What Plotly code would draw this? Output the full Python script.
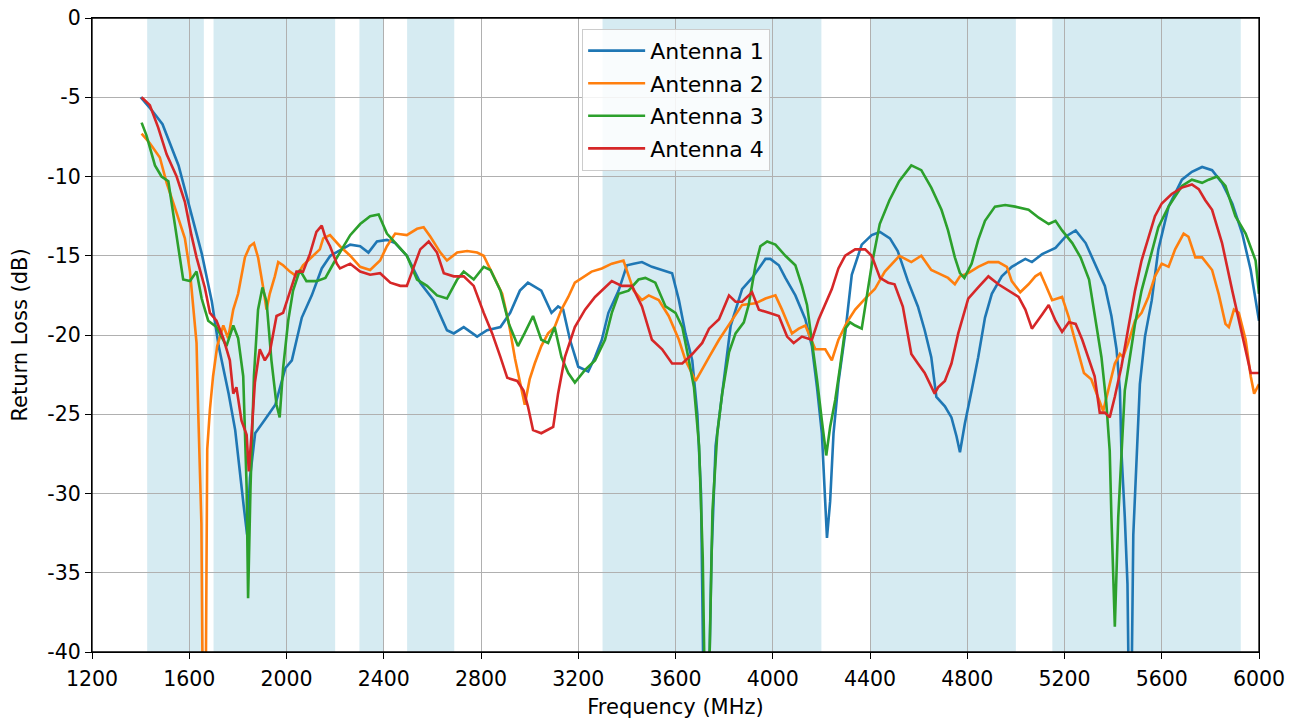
import plotly.graph_objects as go

# ---- data ----
bands = [(1427, 1660), (1700, 2200), (2300, 2400), (2496, 2690),
         (3300, 4200), (4400, 5000), (5150, 5925)]

x_ticks = [1200, 1600, 2000, 2400, 2800, 3200, 3600, 4000, 4400, 4800, 5200, 5600, 6000]
y_ticks = [-40, -35, -30, -25, -20, -15, -10, -5, 0]
y_tick_labels = ["-40", "-35", "-30", "-25", "-20", "-15", "-10", "-5", "0"]

ant1_f = [1400, 1450, 1490, 1556, 1611, 1652, 1693, 1721, 1762, 1789,
          1824, 1838, 1850, 1871, 1913, 1954, 1995, 2022, 2063, 2104,
          2145, 2180, 2262, 2303, 2337, 2372, 2413, 2447, 2495, 2550,
          2605, 2660, 2688, 2729, 2784, 2825, 2880, 2920, 2960, 2993,
          3048, 3090, 3117, 3138, 3166, 3200, 3241, 3269, 3297, 3324,
          3366, 3400, 3428, 3462, 3503, 3545, 3586, 3614, 3641, 3669,
          3690, 3705, 3715, 3738, 3748, 3765, 3792, 3827, 3874, 3915,
          3970, 3990, 4025, 4052, 4093, 4134, 4161, 4182, 4202, 4216,
          4223, 4236, 4250, 4270, 4298, 4325, 4366, 4407, 4441, 4482,
          4514, 4556, 4597, 4625, 4652, 4673, 4708, 4735, 4756, 4770,
          4790, 4818, 4845, 4873, 4901, 4942, 4983, 5039, 5066, 5108,
          5163, 5204, 5246, 5287, 5324, 5366, 5393, 5414, 5428, 5434,
          5448, 5459, 5464, 5476, 5483, 5497, 5510, 5531, 5559, 5586,
          5628, 5683, 5724, 5766, 5807, 5848, 5890, 5931, 5966, 6000]
ant1_db = [-5.0, -5.9, -6.7, -9.3, -12.5, -14.9, -17.9, -20.7, -23.7, -26.0,
           -30.8, -32.6, -29.0, -26.2, -25.3, -24.4, -22.1, -21.6, -18.9, -17.5,
           -15.8, -15.0, -14.3, -14.4, -14.8, -14.1, -14.0, -14.2, -15.0, -16.7,
           -17.8, -19.7, -19.9, -19.5, -20.1, -19.7, -19.5, -18.6, -17.2, -16.7,
           -17.2, -18.6, -18.2, -18.4, -20.3, -22.0, -22.3, -21.4, -20.3, -18.6,
           -17.2, -15.6, -15.5, -15.4, -15.7, -15.9, -16.1, -17.8, -19.9, -21.6,
           -25.0, -30.0, -42.0, -42.0, -34.0, -27.0, -23.7, -19.4, -17.1, -16.4,
           -15.2, -15.2, -15.6, -16.4, -17.5, -19.0, -20.7, -23.3, -26.2, -30.5,
           -32.8, -30.5, -26.2, -23.0, -19.9, -16.2, -14.3, -13.7, -13.5, -13.9,
           -14.7, -16.6, -18.2, -19.7, -21.4, -23.9, -24.5, -25.2, -26.4, -27.4,
           -25.6, -23.5, -21.4, -18.9, -17.4, -16.3, -15.7, -15.2, -15.4, -14.9,
           -14.5, -13.8, -13.4, -14.2, -15.5, -16.9, -18.8, -20.9, -23.5, -27.3,
           -31.5, -35.7, -42.0, -42.0, -32.6, -27.3, -23.1, -20.1, -17.8, -14.6,
           -11.9, -10.2, -9.7, -9.4, -9.6, -10.4, -11.7, -13.6, -15.9, -19.1]

ant2_f = [1404, 1438, 1479, 1507, 1548, 1582, 1603, 1616, 1630, 1637,
          1644, 1650, 1655, 1668, 1674, 1685, 1698, 1715, 1740, 1760,
          1781, 1801, 1829, 1849, 1866, 1883, 1904, 1918, 1931, 1952,
          1966, 1986, 2014, 2041, 2068, 2103, 2137, 2151, 2179, 2220,
          2262, 2303, 2344, 2385, 2413, 2447, 2495, 2537, 2564, 2592,
          2633, 2660, 2702, 2743, 2784, 2811, 2853, 2887, 2915, 2940,
          2980, 3000, 3021, 3048, 3076, 3103, 3131, 3159, 3186, 3214,
          3255, 3297, 3338, 3386, 3407, 3428, 3462, 3490, 3531, 3572,
          3614, 3641, 3683, 3710, 3738, 3779, 3833, 3874, 3929, 3970,
          4011, 4038, 4079, 4107, 4134, 4175, 4216, 4243, 4270, 4305,
          4339, 4380, 4420, 4461, 4521, 4570, 4611, 4652, 4680, 4721,
          4749, 4770, 4804, 4845, 4887, 4928, 4963, 4983, 5018, 5052,
          5080, 5101, 5121, 5149, 5190, 5218, 5246, 5280, 5310, 5338,
          5359, 5386, 5407, 5428, 5441, 5462, 5490, 5517, 5545, 5572,
          5600, 5628, 5655, 5690, 5710, 5738, 5766, 5807, 5834, 5862,
          5876, 5897, 5917, 5945, 5966, 5980, 6000]
ant2_db = [-7.3, -7.9, -8.8, -10.4, -12.3, -13.9, -16.0, -18.4, -20.5, -24.9,
           -29.6, -31.9, -42.0, -42.0, -27.2, -24.7, -22.6, -20.7, -19.4, -20.2,
           -18.4, -17.4, -15.1, -14.4, -14.2, -15.1, -17.0, -18.4, -17.4, -16.3,
           -15.4, -15.6, -16.0, -16.3, -15.6, -15.1, -14.6, -13.9, -13.7, -14.4,
           -15.0, -15.7, -15.9, -15.3, -14.4, -13.6, -13.7, -13.3, -13.2, -13.8,
           -14.8, -15.3, -14.8, -14.7, -14.8, -15.0, -16.3, -17.4, -19.3, -21.5,
           -24.4, -22.8, -21.8, -20.7, -19.9, -19.5, -18.4, -17.6, -16.7, -16.4,
           -16.0, -15.8, -15.5, -15.3, -16.2, -17.2, -17.8, -17.5, -17.8, -18.8,
           -20.3, -21.6, -22.9, -22.2, -21.4, -20.3, -19.0, -18.1, -18.0, -17.7,
           -17.5, -18.4, -19.9, -19.6, -19.4, -20.9, -20.9, -21.6, -20.3, -19.2,
           -18.4, -17.7, -17.1, -16.0, -15.0, -15.4, -15.0, -15.9, -16.1, -16.4,
           -16.8, -16.3, -16.1, -15.7, -15.4, -15.4, -15.7, -16.6, -17.3, -16.8,
           -16.3, -16.1, -16.8, -17.8, -17.6, -18.9, -20.5, -22.4, -22.8, -23.9,
           -24.8, -23.1, -21.8, -21.2, -21.4, -20.5, -19.1, -18.6, -17.6, -16.3,
           -15.5, -15.7, -14.6, -13.6, -13.8, -15.1, -15.1, -15.9, -17.4, -19.3,
           -19.5, -18.4, -18.6, -20.3, -22.6, -23.7, -23.1]

ant3_f = [1404, 1424, 1459, 1486, 1514, 1534, 1555, 1575, 1603, 1630,
          1651, 1678, 1712, 1753, 1781, 1801, 1822, 1836, 1842, 1852,
          1866, 1883, 1901, 1918, 1938, 1959, 1972, 1986, 2007, 2027,
          2055, 2082, 2123, 2160, 2200, 2220, 2262, 2303, 2344, 2379,
          2413, 2454, 2495, 2537, 2578, 2619, 2660, 2702, 2729, 2770,
          2811, 2839, 2880, 2915, 2952, 2979, 3014, 3048, 3076, 3103,
          3131, 3159, 3186, 3228, 3269, 3310, 3338, 3366, 3407, 3448,
          3476, 3517, 3559, 3600, 3628, 3655, 3676, 3697, 3712, 3720,
          3738, 3752, 3772, 3792, 3820, 3847, 3881, 3901, 3929, 3949,
          3977, 4011, 4052, 4093, 4120, 4141, 4161, 4182, 4202, 4220,
          4236, 4257, 4277, 4298, 4318, 4339, 4366, 4386, 4407, 4440,
          4480, 4520, 4570, 4611, 4652, 4694, 4721, 4749, 4770, 4788,
          4818, 4845, 4873, 4914, 4956, 4997, 5052, 5094, 5135, 5163,
          5190, 5232, 5266, 5301, 5331, 5352, 5372, 5386, 5393, 5407,
          5421, 5434, 5448, 5469, 5490, 5517, 5545, 5586, 5628, 5683,
          5724, 5766, 5793, 5828, 5862, 5903, 5945, 5986, 6000]
ant3_db = [-6.6, -7.4, -9.3, -10.0, -10.3, -12.3, -14.4, -16.5, -16.6, -16.0,
           -17.7, -19.1, -19.5, -20.7, -19.4, -20.2, -22.6, -29.6, -36.6, -29.6,
           -22.6, -18.4, -17.0, -17.9, -21.6, -24.4, -25.2, -22.1, -19.1, -17.2,
           -15.9, -16.6, -16.6, -16.4, -15.3, -14.8, -13.7, -13.0, -12.5, -12.4,
           -13.6, -14.3, -15.0, -16.5, -16.9, -17.5, -17.7, -16.5, -16.0, -16.5,
           -15.7, -15.9, -17.2, -19.3, -20.7, -19.9, -18.8, -20.3, -20.5, -19.5,
           -21.4, -22.4, -23.0, -22.2, -21.6, -20.3, -18.6, -17.4, -17.2, -16.5,
           -16.4, -16.7, -18.2, -18.6, -19.5, -21.6, -23.3, -27.0, -34.0, -42.0,
           -42.0, -31.1, -26.2, -23.7, -21.1, -19.9, -19.2, -18.1, -15.6, -14.4,
           -14.1, -14.3, -15.0, -15.6, -16.9, -18.1, -20.3, -22.8, -25.4, -27.6,
           -25.8, -24.1, -22.0, -19.6, -19.2, -19.4, -19.6, -17.7, -15.6, -13.0,
           -11.5, -10.3, -9.3, -9.6, -10.7, -12.1, -13.4, -15.1, -16.1, -16.4,
           -15.5, -14.0, -12.8, -11.9, -11.8, -11.9, -12.1, -12.6, -13.0, -12.8,
           -13.4, -14.2, -15.1, -16.5, -19.3, -21.4, -24.3, -27.3, -31.5, -38.4,
           -31.5, -27.3, -23.5, -21.4, -19.3, -17.2, -15.5, -13.2, -11.9, -10.6,
           -10.2, -10.4, -10.2, -10.0, -10.6, -12.5, -13.6, -15.3, -17.4]

ant4_f = [1404, 1438, 1472, 1507, 1548, 1582, 1609, 1630, 1664, 1685,
          1712, 1740, 1767, 1781, 1794, 1815, 1836, 1845, 1856, 1870,
          1890, 1911, 1931, 1959, 1986, 2014, 2041, 2068, 2096, 2123,
          2145, 2159, 2179, 2207, 2220, 2262, 2303, 2344, 2385, 2427,
          2468, 2495, 2523, 2550, 2585, 2619, 2647, 2688, 2729, 2770,
          2811, 2846, 2880, 2908, 2949, 2975, 2993, 3014, 3048, 3076,
          3097, 3117, 3145, 3186, 3228, 3269, 3310, 3338, 3379, 3421,
          3462, 3503, 3545, 3586, 3628, 3669, 3710, 3738, 3779, 3820,
          3847, 3874, 3915, 3943, 3984, 4025, 4059, 4086, 4120, 4161,
          4189, 4216, 4243, 4270, 4298, 4339, 4380, 4407, 4441, 4475,
          4501, 4535, 4570, 4597, 4625, 4666, 4680, 4708, 4735, 4763,
          4804, 4845, 4887, 4928, 4970, 5011, 5039, 5066, 5108, 5135,
          5163, 5190, 5218, 5246, 5273, 5297, 5324, 5345, 5366, 5386,
          5407, 5434, 5462, 5490, 5517, 5545, 5572, 5600, 5641, 5683,
          5724, 5752, 5779, 5807, 5848, 5890, 5931, 5966, 6000]
ant4_db = [-5.0, -5.5, -6.9, -8.6, -10.0, -11.6, -13.7, -15.1, -17.0, -18.6,
           -19.1, -20.2, -21.6, -23.7, -23.3, -25.4, -26.3, -28.6, -26.3, -23.0,
           -20.9, -21.6, -21.1, -18.8, -18.6, -17.2, -16.0, -16.0, -14.9, -13.5,
           -13.1, -13.8, -14.4, -15.5, -15.8, -15.5, -16.0, -16.2, -16.1, -16.7,
           -16.9, -16.9, -15.7, -14.6, -14.1, -14.8, -16.1, -16.3, -16.3, -16.9,
           -18.6, -19.9, -21.4, -22.7, -22.9, -23.5, -24.5, -26.0, -26.2, -26.0,
           -25.8, -23.7, -21.4, -19.5, -18.4, -17.6, -17.0, -16.6, -16.9, -16.9,
           -18.2, -20.3, -20.9, -21.8, -21.8, -21.2, -20.5, -19.6, -19.0, -17.5,
           -17.9, -17.9, -17.3, -18.4, -18.6, -18.8, -20.1, -20.5, -20.1, -20.3,
           -19.0, -18.1, -17.1, -15.8, -15.0, -14.6, -14.6, -15.0, -16.4, -16.7,
           -16.8, -18.2, -21.2, -21.8, -22.4, -23.7, -23.3, -22.9, -21.8, -19.9,
           -17.7, -17.0, -16.3, -16.8, -17.2, -17.6, -18.4, -19.6, -18.7, -18.1,
           -19.1, -19.8, -19.2, -19.3, -20.3, -21.4, -22.6, -24.9, -24.9, -25.2,
           -23.9, -22.0, -19.5, -17.2, -15.3, -13.8, -12.5, -11.7, -11.1, -10.7,
           -10.5, -10.8, -11.5, -12.1, -14.2, -17.2, -20.1, -22.4, -22.4]

names = ["Antenna 1", "Antenna 2", "Antenna 3", "Antenna 4"]
colors = ["#1f77b4", "#ff7f0e", "#2ca02c", "#d62728"]

# ---- figure ----
fig = go.Figure()
series = [(ant1_f, ant1_db), (ant2_f, ant2_db), (ant3_f, ant3_db), (ant4_f, ant4_db)]
for i, ((f, db), name, c) in enumerate(zip(series, names, colors)):
    fig.add_trace(go.Scatter(x=f, y=db, mode="lines", name=name,
                             legendgroup=f"g{i}",
                             line=dict(color=c, width=2.6)))

for lo, hi in bands:
    fig.add_vrect(x0=lo, x1=hi, fillcolor="rgba(173,216,230,0.5)",
                  line_width=0, layer="below")

# axes frame (all four spines)
fig.add_shape(type="rect", xref="paper", yref="paper", x0=0, x1=1, y0=0, y1=1,
              line=dict(color="black", width=1.3), fillcolor="rgba(0,0,0,0)",
              layer="above")

font = "DejaVu Sans, Liberation Sans, sans-serif"
axis_common = dict(showline=True, linecolor="black", linewidth=1.3, mirror=True,
                   ticks="outside", ticklen=6, tickcolor="black", tickwidth=1.3,
                   showgrid=True, gridcolor="#b0b0b0", gridwidth=1.2,
                   zeroline=False, automargin=False,
                   tickfont=dict(size=20.5, color="black"),
                   title_font=dict(size=21, color="black"))

fig.update_layout(
    width=1302, height=724,
    margin=dict(l=92, r=43, t=18, b=72),
    paper_bgcolor="white", plot_bgcolor="white",
    font=dict(family=font, size=20, color="black"),
    showlegend=True,
    legend=dict(x=0.42, y=0.983, xanchor="left", yanchor="top",
                bgcolor="rgba(255,255,255,0.85)", bordercolor="#cccccc",
                borderwidth=1, font=dict(size=22), tracegroupgap=1,
                itemwidth=57),
    xaxis=dict(range=[1200, 6000], tickvals=x_ticks, ticklabelstandoff=2,
               title=dict(text="Frequency (MHz)", standoff=9), **axis_common),
    yaxis=dict(range=[-40, 0], tickvals=y_ticks, ticktext=y_tick_labels,
               title=dict(text="Return Loss (dB)", standoff=13), **axis_common),
)

# remove the default page margin so the figure fills the window exactly
fig.write_html("out.html", config={"displayModeBar": False},
               post_script="document.body.style.margin='0';document.body.style.overflow='hidden';")
